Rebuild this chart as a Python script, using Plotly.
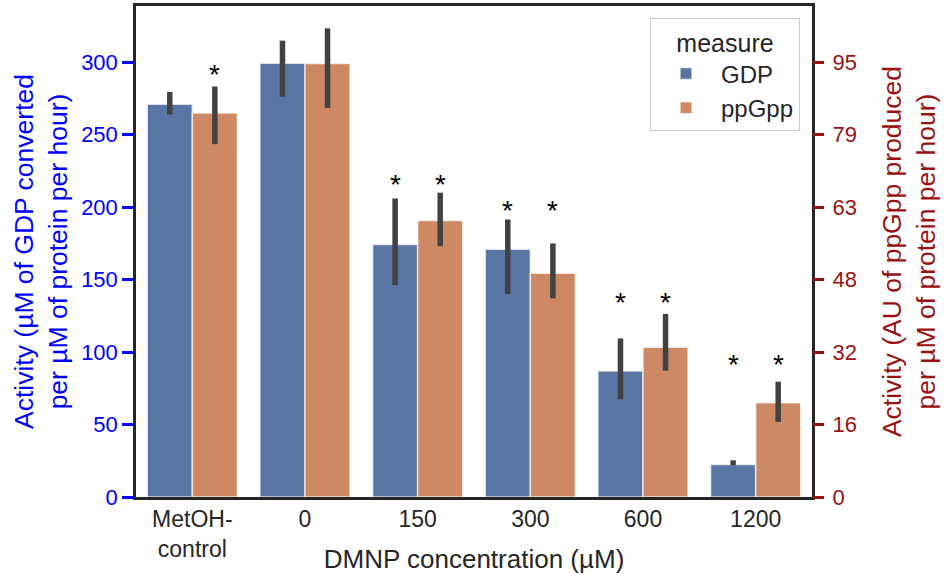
import plotly.graph_objects as go

# ---------------- data ----------------
categories = ["MetOH-<br>control", "0", "150", "300", "600", "1200"]

# GDP activity (left axis, µM GDP converted per µM protein per hour)
gdp_mean = [271, 299.3, 174.3, 171, 86.9, 22.5]
gdp_ci_low = [264, 276.3, 146.2, 140, 67.4, 21.8]
gdp_ci_high = [279.5, 314.9, 206, 191.5, 109.4, 25.3]

# ppGpp activity (right axis, AU)
ppgpp_mean = [83.9, 94.7, 60.4, 48.9, 32.7, 20.6]
ppgpp_ci_low = [77.1, 85.0, 54.8, 43.4, 27.6, 16.4]
ppgpp_ci_high = [89.7, 102.4, 66.5, 55.4, 40.0, 25.2]

# significance stars (height in left-axis units, None = no star)
gdp_star_y = [None, None, 217.5, 200, 136.5, 93.3]
ppgpp_star_y = [293.3, None, 217.5, 200, 136.5, 93.3]

left_ticks = [0, 50, 100, 150, 200, 250, 300]
right_tick_labels = ["0", "16", "32", "48", "63", "79", "95"]
right_scale = 95 / 300  # AU per left-axis unit

# ---------------- styling ----------------
FONT = "Liberation Sans, Arial, sans-serif"
BLUE_BAR = "#5975A4"
ORANGE_BAR = "#CC8963"
ERR = "#424242"
SPINE = "#262626"
LBLUE = "#0000FF"
DRED = "#9B1111"

W, H = 949, 574
ML, MR, MT, MB = 136, 137, 6, 77
PW, PH = W - ML - MR, H - MT - MB

y_max = 338.8
xpos = list(range(len(categories)))

fig = go.Figure()

fig.add_trace(go.Bar(
    name="GDP", x=xpos, y=gdp_mean, width=0.4, offset=-0.4,
    marker=dict(color=BLUE_BAR, line=dict(color="rgba(255,255,255,0.7)", width=1.5)),
    error_y=dict(type="data", symmetric=False,
                 array=[h - m for h, m in zip(gdp_ci_high, gdp_mean)],
                 arrayminus=[m - l for l, m in zip(gdp_ci_low, gdp_mean)],
                 color=ERR, thickness=5.5, width=0),
    yaxis="y",
))
fig.add_trace(go.Bar(
    name="ppGpp", x=xpos, y=ppgpp_mean, width=0.4, offset=0,
    marker=dict(color=ORANGE_BAR, line=dict(color="rgba(255,255,255,0.7)", width=1.5)),
    error_y=dict(type="data", symmetric=False,
                 array=[h - m for h, m in zip(ppgpp_ci_high, ppgpp_mean)],
                 arrayminus=[m - l for l, m in zip(ppgpp_ci_low, ppgpp_mean)],
                 color=ERR, thickness=5.5, width=0),
    yaxis="y2",
))

annotations = []
for i, yv in enumerate(gdp_star_y):
    if yv is not None:
        annotations.append(dict(x=i - 0.2, y=yv, xref="x", yref="y", text="*",
                                showarrow=False, yshift=-3,
                                font=dict(family=FONT, size=28, color="black")))
for i, yv in enumerate(ppgpp_star_y):
    if yv is not None:
        annotations.append(dict(x=i + 0.2, y=yv, xref="x", yref="y", text="*",
                                showarrow=False, yshift=-3,
                                font=dict(family=FONT, size=28, color="black")))

fig.update_layout(
    width=W, height=H,
    margin=dict(l=ML, r=MR, t=MT, b=MB),
    paper_bgcolor="white", plot_bgcolor="white",
    font=dict(family=FONT, color=SPINE),
    barmode="overlay",
    showlegend=True,
    legend=dict(
        title=dict(text="measure", side="top center",
                   font=dict(family=FONT, size=25, color=SPINE)),
        font=dict(family=FONT, size=24, color=SPINE),
        x=(800 - ML) / PW, xanchor="right",
        y=(H - MB - 18) / PH, yanchor="top",
        itemwidth=60,
        bordercolor="#CCCCCC", borderwidth=1, bgcolor="white",
    ),
    xaxis=dict(
        tickmode="array", tickvals=xpos, ticktext=categories,
        range=[-0.5, len(categories) - 0.5],
        showline=True, mirror=True, linecolor=SPINE, linewidth=2.5,
        ticks="", showgrid=False, zeroline=False,
        tickfont=dict(family=FONT, size=23, color=SPINE),
        title=dict(text="DMNP concentration (µM)", standoff=2,
                   font=dict(family=FONT, size=26, color=SPINE)),
        automargin=False,
    ),
    yaxis=dict(
        range=[0, y_max], tickmode="array", tickvals=left_ticks,
        showline=True, mirror=True, linecolor=SPINE, linewidth=2.5,
        ticks="outside", ticklen=11, tickwidth=2.5, tickcolor=LBLUE,
        tickfont=dict(family=FONT, size=22, color=LBLUE),
        showgrid=False, zeroline=False,
        title=dict(text="Activity (µM of GDP converted<br>per µM of protein per hour)",
                   standoff=6, font=dict(family=FONT, size=26.5, color=LBLUE)),
        automargin=False,
    ),
    yaxis2=dict(
        overlaying="y", side="right",
        range=[0, y_max * right_scale], tickmode="array",
        tickvals=[t * right_scale for t in left_ticks], ticktext=right_tick_labels,
        showline=False,
        ticks="outside", ticklen=11, tickwidth=2.5, tickcolor=DRED,
        tickfont=dict(family=FONT, size=22, color=DRED),
        ticklabelstandoff=4,
        showgrid=False, zeroline=False,
        title=dict(text="Activity (AU of ppGpp produced<br>per µM of protein per hour)",
                   standoff=26, font=dict(family=FONT, size=26.5, color=DRED)),
        automargin=False,
    ),
    annotations=annotations,
)

fig.write_html("out.html", config={"displayModeBar": False},
               post_script="document.body.style.margin='0px';")
